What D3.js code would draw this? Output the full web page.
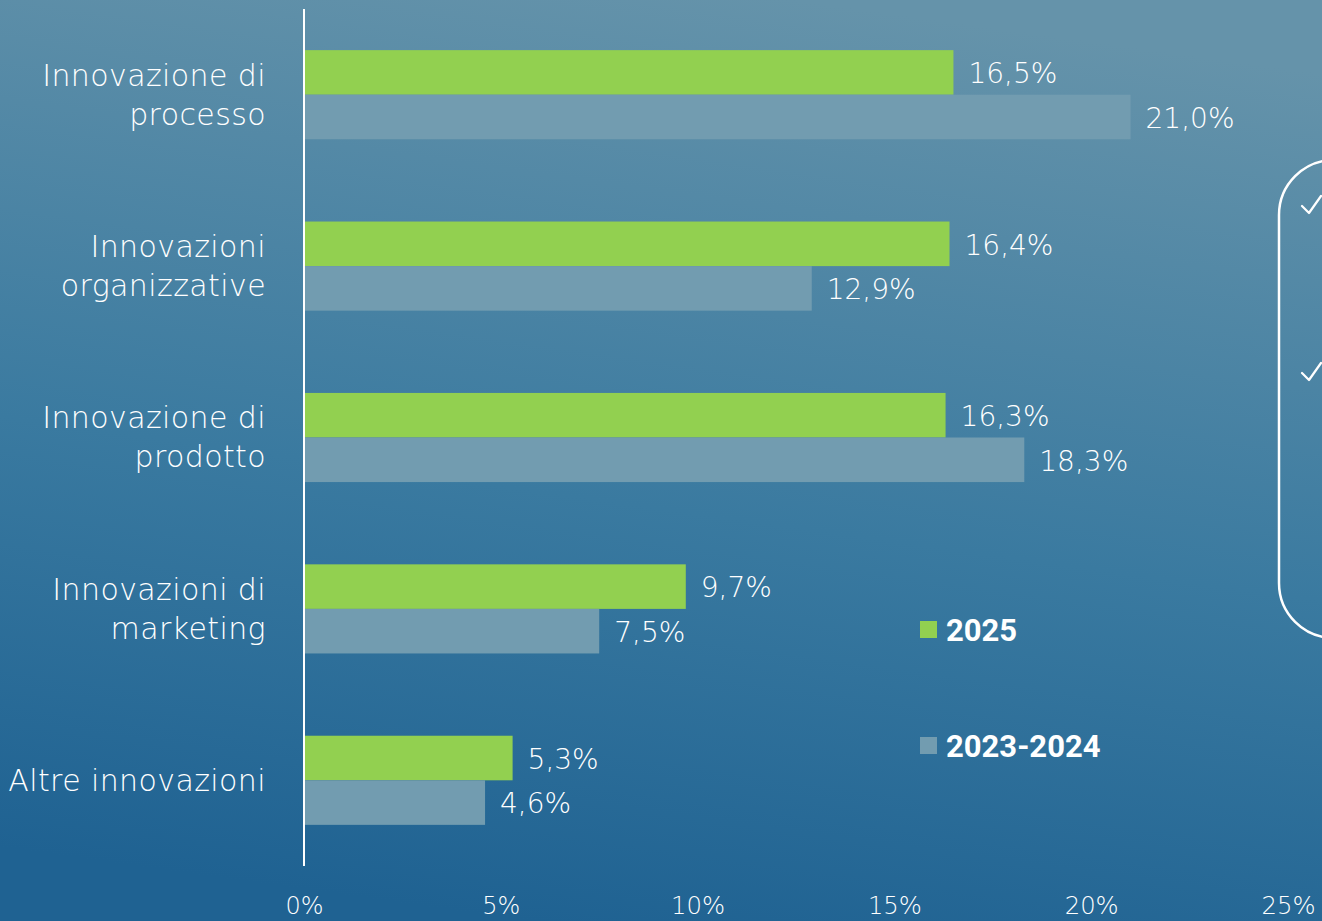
<!DOCTYPE html>
<html>
<head>
<meta charset="utf-8">
<script src="https://cdn.jsdelivr.net/npm/d3@7"></script>
<style>
  body { margin: 0; overflow: hidden; }
  svg { display: block; }
</style>
</head>
<body>
<div id="chart"></div>
<script>
// data
var categories = ["Innovazione di processo", "Innovazioni organizzative", "Innovazione di prodotto", "Innovazioni di marketing", "Altre innovazioni"];
var catLines = [["Innovazione di", "processo"], ["Innovazioni", "organizzative"], ["Innovazione di", "prodotto"], ["Innovazioni di", "marketing"], ["Altre innovazioni"]];
var series = ["2025", "2023-2024"];
var values2025 = [16.5, 16.4, 16.3, 9.7, 5.3];
var values2023 = [21.0, 12.9, 18.3, 7.5, 4.6];
var ticks = [0, 5, 10, 15, 20, 25];

var width = 1322, height = 921;
var colors = {"2025": "#92d050", "2023-2024": "#729cb0"};
var labelFont = "'URW Gothic', 'Century Gothic', 'DejaVu Sans', sans-serif";

var svg = d3.select("#chart").append("svg")
  .attr("width", width)
  .attr("height", height);

// background gradient
var defs = svg.append("defs");
var grad = defs.append("linearGradient")
  .attr("id", "bg")
  .attr("x1", "0.6").attr("y1", "0")
  .attr("x2", "0.4").attr("y2", "1");
grad.append("stop").attr("offset", "0%").attr("stop-color", "#6593aa");
grad.append("stop").attr("offset", "55%").attr("stop-color", "#3a7aa0");
grad.append("stop").attr("offset", "100%").attr("stop-color", "#1f6292");
svg.append("rect")
  .attr("width", width).attr("height", height)
  .attr("fill", "url(#bg)");

var x = d3.scaleLinear()
  .domain([0, 25])
  .range([304, 1288]);

var y = d3.scaleBand()
  .domain(categories)
  .range([9, 866])
  .paddingInner(0.48)
  .paddingOuter(0.24);

var ySub = d3.scaleBand()
  .domain(series)
  .range([0, y.bandwidth()]);

var rows = categories.map(function(c, i) {
  return {cat: c, lines: catLines[i], vals: [
    {key: "2025", v: values2025[i]},
    {key: "2023-2024", v: values2023[i]}
  ]};
});

var groups = svg.append("g").selectAll("g")
  .data(rows)
  .join("g")
  .attr("transform", function(d) { return "translate(0," + y(d.cat) + ")"; });

groups.selectAll("rect")
  .data(function(d) { return d.vals; })
  .join("rect")
  .attr("x", x(0) + 1)
  .attr("y", function(d) { return ySub(d.key); })
  .attr("width", function(d) { return x(d.v) - x(0) - 1; })
  .attr("height", ySub.bandwidth())
  .attr("fill", function(d) { return colors[d.key]; });

groups.selectAll("text.val")
  .data(function(d) { return d.vals; })
  .join("text")
  .attr("class", "val")
  .attr("x", function(d) { return x(d.v) + 15; })
  .attr("y", function(d) { return ySub(d.key) + ySub.bandwidth() / 2 + 1; })
  .attr("dy", "0.35em")
  .attr("fill", "#fff")
  .style("font-family", labelFont)
  .style("font-weight", 200)
  .style("font-size", "28px")
  .text(function(d) { return d3.format(".1f")(d.v).replace(".", ",") + "%"; });

// category labels
groups.append("text")
  .attr("text-anchor", "end")
  .attr("fill", "#fff")
  .style("font-family", labelFont)
  .style("font-weight", 200)
  .style("font-size", "30px")
  .style("letter-spacing", "0.4px")
  .each(function(d) {
    var t = d3.select(this);
    var n = d.lines.length;
    var lh = 39;
    d.lines.forEach(function(l, k) {
      t.append("tspan")
        .attr("x", 266)
        .attr("y", y.bandwidth() / 2 + (k - (n - 1) / 2) * lh)
        .attr("dy", "0.35em")
        .text(l);
    });
  });

// vertical axis line
svg.append("line")
  .attr("x1", x(0)).attr("x2", x(0))
  .attr("y1", 9).attr("y2", 866)
  .attr("stroke", "#fff")
  .attr("stroke-width", 2);

// x tick labels
var xAxis = d3.axisBottom(x)
  .tickValues(ticks)
  .tickSize(0)
  .tickFormat(function(d) { return d + "%"; });
var ax = svg.append("g")
  .attr("transform", "translate(0,892)")
  .call(xAxis);
ax.select(".domain").remove();
ax.selectAll("text")
  .attr("fill", "#fff")
  .attr("dy", "0.75em")
  .style("font-family", labelFont)
  .style("font-weight", 200)
  .style("font-size", "25px")
  .attr("textLength", function(d) { return d < 10 ? 38 : 54; })
  .attr("lengthAdjust", "spacingAndGlyphs");

// legend
var legend = svg.append("g").selectAll("g")
  .data(series)
  .join("g")
  .attr("transform", function(d, i) { return "translate(920," + (621 + i * 116) + ")"; });
legend.append("rect")
  .attr("width", 17).attr("height", 17)
  .attr("fill", function(d) { return colors[d]; });
legend.append("text")
  .attr("x", 26)
  .attr("y", 9)
  .attr("dy", "0.36em")
  .attr("fill", "#fff")
  .style("font-family", "Roboto, sans-serif")
  .style("font-weight", "bold")
  .style("font-size", "31px")
  .text(function(d) { return d; });

// side box (cut off at right edge)
svg.append("rect")
  .attr("x", 1279).attr("y", 160)
  .attr("width", 200).attr("height", 478)
  .attr("rx", 55).attr("ry", 55)
  .attr("fill", "none")
  .attr("stroke", "#fff")
  .attr("stroke-width", 2.5);
svg.append("g").selectAll("path")
  .data([206, 373])
  .join("path")
  .attr("d", function(d) {
    var p = d3.path();
    p.moveTo(1302, d);
    p.lineTo(1309, d + 7);
    p.lineTo(1321, d - 10);
    return p.toString();
  })
  .attr("fill", "none")
  .attr("stroke", "#fff")
  .attr("stroke-width", 2.2)
  .attr("stroke-linecap", "round")
  .attr("stroke-linejoin", "round");
</script>
</body>
</html>
